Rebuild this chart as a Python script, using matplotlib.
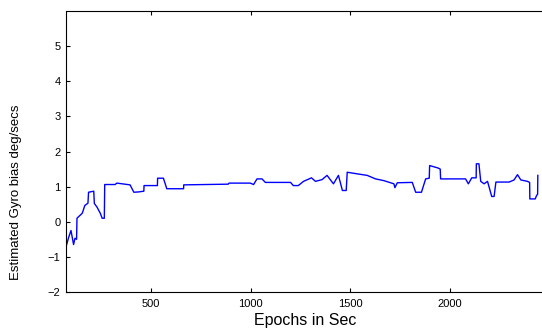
import numpy as np
import matplotlib
matplotlib.use('Agg')
import matplotlib.pyplot as plt

plt.rcParams['font.family'] = ['Liberation Sans', 'DejaVu Sans']

# epochs (sec) and estimated gyro bias
epochs = [75, 88, 100, 113, 120, 128, 130, 156, 160, 169, 185, 188, 214, 217, 230, 247, 256, 267, 269,
          321, 330, 396, 415, 440, 465, 466, 533, 534, 563, 580, 664, 665, 888, 892, 998,
          1015, 1032, 1057, 1074, 1200, 1214, 1239, 1265, 1305, 1325, 1358, 1383, 1415, 1440,
          1460, 1479, 1484, 1516, 1584, 1626, 1668, 1718, 1723, 1735, 1810, 1827, 1856, 1877,
          1895, 1897, 1939, 1950, 1952, 2002, 2077, 2091, 2108, 2130, 2131, 2144, 2153, 2170, 2187,
          2208, 2220, 2229, 2295, 2320, 2337, 2354, 2387, 2398, 2399, 2426, 2433, 2438, 2439]
bias = [-0.72, -0.45, -0.25, -0.65, -0.47, -0.5, 0.1, 0.24, 0.3, 0.46, 0.53, 0.84, 0.87, 0.52, 0.42, 0.24, 0.1, 0.1, 1.06,
        1.06, 1.1, 1.05, 0.84, 0.85, 0.87, 1.03, 1.03, 1.24, 1.24, 0.94, 0.94, 1.05, 1.07, 1.1, 1.1,
        1.06, 1.22, 1.22, 1.12, 1.12, 1.03, 1.03, 1.15, 1.25, 1.15, 1.2, 1.32, 1.08, 1.32,
        0.89, 0.89, 1.41, 1.38, 1.32, 1.22, 1.17, 1.08, 0.97, 1.11, 1.12, 0.84, 0.84, 1.22,
        1.24, 1.6, 1.53, 1.5, 1.22, 1.22, 1.22, 1.08, 1.25, 1.25, 1.65, 1.65, 1.15, 1.08, 1.15,
        0.72, 0.72, 1.13, 1.13, 1.19, 1.34, 1.19, 1.15, 1.12, 0.65, 0.65, 0.75, 0.78, 1.32]

yticks = [-2, -1, 0, 1, 2, 3, 4, 5]
xticks = [500, 1000, 1500, 2000]

fig = plt.figure(figsize=(5.42, 3.35), dpi=100)
ax = fig.add_axes([66/542, 43/335, 478/542, 281/335])

ax.plot(epochs, bias, color='#0000ff', lw=1.0)

ax.set_xlim(75, 2470)
ax.set_ylim(-2, 6)
ax.set_xticks(xticks)
ax.set_yticks(yticks)
ax.tick_params(direction='in', length=3, width=0.8, labelsize=8, top=True, pad=4)
ax.tick_params(axis='x', pad=5)
for s in ax.spines.values():
    s.set_linewidth(0.8)
ax.spines['right'].set_visible(False)

ax.set_xlabel('Epochs in Sec', fontsize=11.5, labelpad=3)
fig.text(16/542, 1 - 192/335, 'Estimated Gyro bias deg/secs', rotation=90,
         ha='center', va='center', fontsize=9.5)

fig.savefig('out.png', dpi=100, facecolor='white')
